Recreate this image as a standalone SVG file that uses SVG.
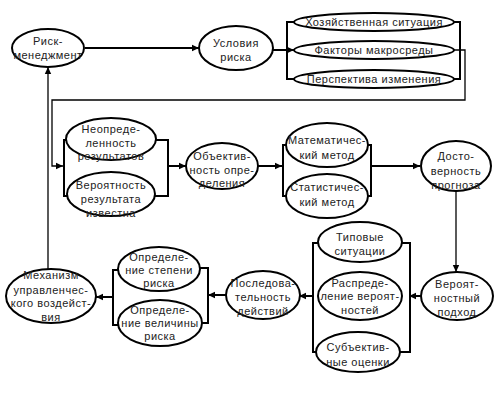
<svg xmlns="http://www.w3.org/2000/svg" width="496" height="416" viewBox="0 0 496 416">
<defs>
<marker id="ah" markerWidth="8" markerHeight="8" refX="7" refY="4" orient="auto" markerUnits="userSpaceOnUse">
<path d="M0,0.8 L7,4 L0,7.2 Z" fill="#000"/>
</marker>
<style>
.n ellipse{fill:#fff;stroke:#000;stroke-width:2}
.n text{font-family:"Liberation Sans",Arial,sans-serif;font-size:11px;text-anchor:middle;fill:#222;letter-spacing:0.5px}
.c path{fill:none;stroke:#000;stroke-width:2}
.c path.a{marker-end:url(#ah)}
.c path.t{stroke-width:1.3}
</style>
</defs>
<rect width="496" height="416" fill="#fff"/>
<g class="c">
<path class="a" d="M85,48 H199"/>
<path d="M295,22 H287 V79 H295"/>
<path d="M453,22 H460 V79 H453"/>
<path class="a" d="M273,50 H294"/>
<path class="t a" d="M454,50 H465 V100 H52 V166 H63"/>
<path d="M70,140 H64 V196 H70"/>
<path d="M155,140 H168 V196 H155"/>
<path class="a" d="M168,166 H186"/>
<path class="a" d="M258,166 H282"/>
<path d="M290,145 H283 V196 H290"/>
<path d="M364,145 H371 V196 H364"/>
<path class="a" d="M371,166 H420"/>
<path class="t a" d="M456,191 V272"/>
<path class="a" d="M421,296 H409"/>
<path d="M398,243 H410 V352 H396"/>
<path d="M320,243 H313 V352 H318"/>
<path class="a" d="M313,296 H299"/>
<path class="a" d="M226,295 H208"/>
<path d="M198,268 H208 V323 H200"/>
<path d="M120,270 H113 V325 H120"/>
<path class="a" d="M113,297 H96"/>
<path class="t a" d="M48,269 V67"/>
</g>
<g id="n1" class="n"><ellipse cx="48" cy="48" rx="36" ry="19"/><text x="48" y="45">Риск-</text><text x="48" y="59">менеджмент</text></g>
<g id="n2" class="n"><ellipse cx="236" cy="48" rx="37" ry="22"/><text x="236" y="47">Условия</text><text x="236" y="61">риска</text></g>
<g id="n3" class="n"><ellipse cx="374" cy="22" rx="80" ry="9"/><text x="374" y="26">Хозяйственная ситуация</text></g>
<g id="n4" class="n"><ellipse cx="374" cy="50" rx="80" ry="9"/><text x="374" y="54">Факторы макросреды</text></g>
<g id="n5" class="n"><ellipse cx="374" cy="79" rx="80" ry="9"/><text x="374" y="83">Перспектива изменения</text></g>
<g id="n6" class="n"><ellipse cx="111" cy="139" rx="45" ry="21"/><text x="111" y="133">Неопреде-</text><text x="111" y="147">ленность</text><text x="111" y="160">результатов</text></g>
<g id="n7" class="n"><ellipse cx="111" cy="194" rx="44" ry="22"/><text x="111" y="189">Вероятность</text><text x="111" y="203">результата</text><text x="111" y="217">известна</text></g>
<g id="n8" class="n"><ellipse cx="222" cy="166" rx="36" ry="23"/><text x="222" y="160">Объектив-</text><text x="222" y="174">ность опре-</text><text x="222" y="187">деления</text></g>
<g id="n9" class="n"><ellipse cx="327" cy="145" rx="41" ry="22"/><text x="327" y="144">Математичес-</text><text x="327" y="159">кий метод</text></g>
<g id="n10" class="n"><ellipse cx="327" cy="196" rx="41" ry="22"/><text x="327" y="191">Статистичес-</text><text x="327" y="206">кий метод</text></g>
<g id="n11" class="n"><ellipse cx="456" cy="166" rx="35" ry="25"/><text x="456" y="160">Досто-</text><text x="456" y="175">верность</text><text x="456" y="189">прогноза</text></g>
<g id="n12" class="n"><ellipse cx="457" cy="296" rx="36" ry="24"/><text x="457" y="288">Вероят-</text><text x="457" y="302">ностный</text><text x="457" y="316">подход</text></g>
<g id="n13" class="n"><ellipse cx="360" cy="242" rx="42" ry="20"/><text x="360" y="241">Типовые</text><text x="360" y="255">ситуации</text></g>
<g id="n14" class="n"><ellipse cx="360" cy="296" rx="42" ry="24"/><text x="360" y="287">Распреде-</text><text x="360" y="300">ление вероят-</text><text x="360" y="314">ностей</text></g>
<g id="n15" class="n"><ellipse cx="358" cy="352" rx="42" ry="20"/><text x="358" y="351">Субъектив-</text><text x="358" y="366">ные оценки</text></g>
<g id="n16" class="n"><ellipse cx="263" cy="295" rx="37" ry="24"/><text x="263" y="287">Последова-</text><text x="263" y="301">тельность</text><text x="263" y="315">действий</text></g>
<g id="n17" class="n"><ellipse cx="159" cy="269" rx="41" ry="22"/><text x="159" y="261">Определе-</text><text x="159" y="274">ние степени</text><text x="159" y="287">риска</text></g>
<g id="n18" class="n"><ellipse cx="160" cy="323" rx="42" ry="23"/><text x="160" y="314">Определе-</text><text x="160" y="327">ние величины</text><text x="160" y="340">риска</text></g>
<g id="n19" class="n"><ellipse cx="51" cy="296" rx="45" ry="27"/><text x="51" y="279">Механизм</text><text x="51" y="294">управленчес-</text><text x="51" y="307">кого воздейст-</text><text x="51" y="321">вия</text></g>
</svg>
